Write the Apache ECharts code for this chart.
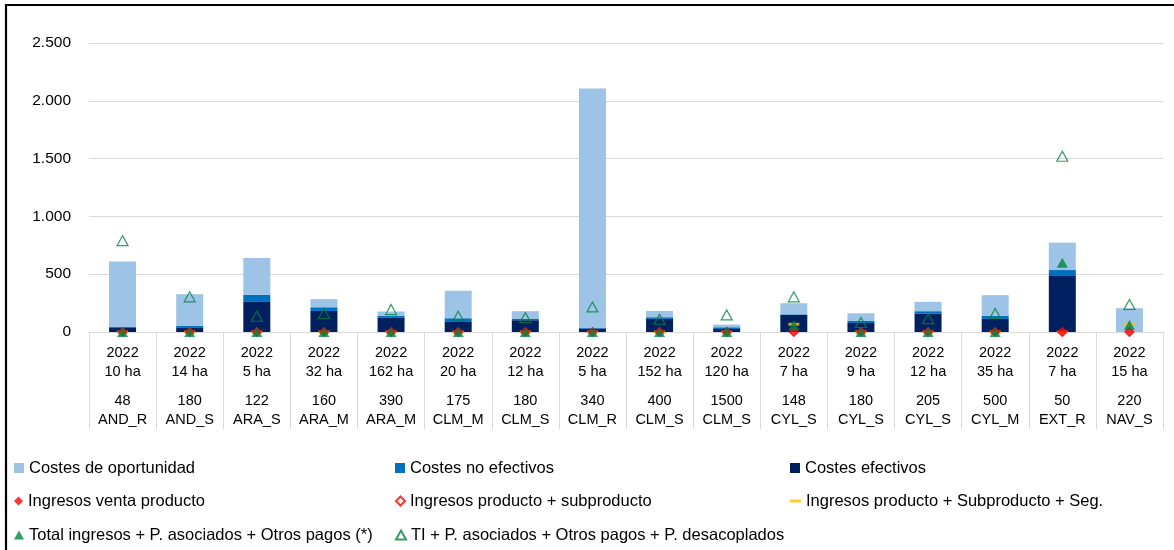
<!DOCTYPE html>
<html>
<head>
<meta charset="utf-8">
<script src="https://cdn.jsdelivr.net/npm/echarts@6/dist/echarts.min.js"></script>
<style>
html,body{margin:0;padding:0;background:#fff;}
#c{width:1174px;height:550px;}
</style>
</head>
<body>
<div id="c"></div>
<script>
const years = ['2022','2022','2022','2022','2022','2022','2022','2022','2022','2022','2022','2022','2022','2022','2022','2022'];
const hectares = ['10 ha','14 ha','5 ha','32 ha','162 ha','20 ha','12 ha','5 ha','152 ha','120 ha','7 ha','9 ha','12 ha','35 ha','7 ha','15 ha'];
const sizes = ['48','180','122','160','390','175','180','340','400','1500','148','180','205','500','50','220'];
const codes = ['AND_R','AND_S','ARA_S','ARA_M','ARA_M','CLM_M','CLM_S','CLM_R','CLM_S','CLM_S','CYL_S','CYL_S','CYL_S','CYL_M','EXT_R','NAV_S'];

const costesEfectivos   = [35, 35, 260, 182, 122, 87, 102, 30, 113, 26, 148, 78, 157, 113, 484, 0];
const costesNoEfectivos = [8, 20, 62, 32, 17, 32, 14, 5, 15, 15, 5, 18, 23, 26, 52, 0];
const costesOportunidad = [567, 272, 318, 70, 38, 238, 64, 2072, 54, 23, 96, 66, 81, 180, 237, 206];

const ingresosVenta      = [0,0,0,0,0,0,0,0,0,0,0,0,0,0,0,0];
const ingresosProdSub    = [0,0,0,0,0,0,0,0,0,0,0,0,0,0,0,0];
const ingresosProdSubSeg = [0,0,0,0,0,0,0,0,0,0,67,0,0,0,0,67];
const totalIngresos      = [0,0,0,0,0,0,0,0,0,0,58,0,0,0,599,61];
const tiDesacoplados     = [790,304,136,160,194,136,125,217,110,148,304,82,116,160,1520,238];

const yTicks = {min:0, max:2500, interval:500};

const categories = codes.map((c,i)=> years[i]+'|'+hectares[i]+'|'+sizes[i]+'|'+c+'|'+i);

const FONT = '"Liberation Sans", Arial, sans-serif';
const LIGHT = '#9DC3E6', MID = '#0070C0', DARK = '#002060';
const RED = '#FF0000', YEL = '#FFC000', GREEN = '#00843D';

const names = {
  op: 'Costes de oportunidad',
  ne: 'Costes no efectivos',
  ef: 'Costes efectivos',
  iv: 'Ingresos venta producto',
  ips: 'Ingresos producto + subproducto',
  ipss: 'Ingresos producto + Subproducto + Seg.',
  ti: 'Total ingresos + P. asociados + Otros pagos (*)',
  tid: 'TI + P. asociados + Otros pagos + P. desacoplados'
};

function leg(name, left, top, w, h, icon) {
  const o = {
    data: [name], left: left, top: top, itemWidth: w, itemHeight: h,
    padding: 0, selectedMode: false,
    textStyle: {fontFamily: FONT, fontSize: 16.5, color: '#000', lineHeight: 20}
  };
  if (icon) o.icon = icon;
  return o;
}

const C1 = 14, C2 = 395, C3 = 790;
const R1 = 458, R2 = 491, R3 = 525;

const chart = echarts.init(document.getElementById('c'), null, {renderer:'canvas'});
chart.setOption({
  animation: false,
  backgroundColor: '#fff',
  graphic: [{
    type: 'rect', shape: {x: 6, y: 5, width: 1250, height: 700},
    style: {fill: 'none', stroke: '#000', lineWidth: 2.2}, silent: true, z: 100
  }],
  grid: {left: 89, right: 11, top: 43, bottom: 218},
  legend: [
    leg(names.op, C1, R1, 10, 10, 'rect'),
    leg(names.ne, C2, R1, 10, 10, 'rect'),
    leg(names.ef, C3, R1, 10, 10, 'rect'),
    leg(names.iv, C1, R2, 9, 9),
    leg(names.ips, C2, R2, 9, 9),
    leg(names.ipss, C3, R2, 11, 3),
    leg(names.ti, C1, R3, 10, 9),
    leg(names.tid, C2, R3, 10, 9)
  ],
  xAxis: {
    type: 'category',
    data: categories,
    boundaryGap: true,
    axisLine: {show: true, lineStyle: {color: '#d9d9d9', width: 1}},
    axisTick: {show: true, length: 97, interval: 0, lineStyle: {color: '#d9d9d9'}},
    axisLabel: {
      interval: 0, margin: 11,
      fontFamily: FONT, fontSize: 14, color: '#000',
      formatter: function (v, i) {
        return '{a|' + years[i] + '}\n{a|' + hectares[i] + '}\n{b| }\n{a|' + sizes[i] + '}\n{a|' + codes[i] + '}';
      },
      rich: {
        a: {fontFamily: FONT, fontSize: 14.5, color: '#000', lineHeight: 19, align: 'center'},
        b: {fontSize: 6, lineHeight: 10}
      }
    },
    splitLine: {show: false}
  },
  yAxis: {
    type: 'value',
    min: yTicks.min, max: yTicks.max, interval: yTicks.interval,
    axisLine: {show: false}, axisTick: {show: false},
    axisLabel: {
      fontFamily: FONT, fontSize: 15.5, color: '#000', margin: 18,
      formatter: function (v) { return v.toString().replace(/\B(?=(\d{3})+(?!\d))/g, '.'); }
    },
    splitLine: {lineStyle: {color: '#d9d9d9', width: 1}}
  },
  series: [
    {name: names.ef, type: 'bar', stack: 'c', data: costesEfectivos, barWidth: 27, itemStyle: {color: DARK}},
    {name: names.ne, type: 'bar', stack: 'c', data: costesNoEfectivos, barWidth: 27, itemStyle: {color: MID}},
    {name: names.op, type: 'bar', stack: 'c', data: costesOportunidad, barWidth: 27, itemStyle: {color: LIGHT}},
    {name: names.ipss, type: 'scatter', data: ingresosProdSubSeg, symbol: 'rect', symbolSize: [11, 3], itemStyle: {color: YEL}, z: 3},
    {name: names.ips, type: 'scatter', data: ingresosProdSub, symbol: 'diamond', symbolSize: 9, itemStyle: {color: 'rgba(255,255,255,0)', borderColor: RED, borderWidth: 1.2}, z: 4},
    {name: names.iv, type: 'scatter', data: ingresosVenta, symbol: 'diamond', symbolSize: 9, itemStyle: {color: RED}, z: 5},
    {name: names.ti, type: 'scatter', data: totalIngresos, symbol: 'triangle', symbolSize: [11, 10], itemStyle: {color: GREEN}, z: 6},
    {name: names.tid, type: 'scatter', data: tiDesacoplados, symbol: 'triangle', symbolSize: [11, 10], itemStyle: {color: 'rgba(255,255,255,0)', borderColor: GREEN, borderWidth: 1.2}, z: 7}
  ]
});
</script>
</body>
</html>
